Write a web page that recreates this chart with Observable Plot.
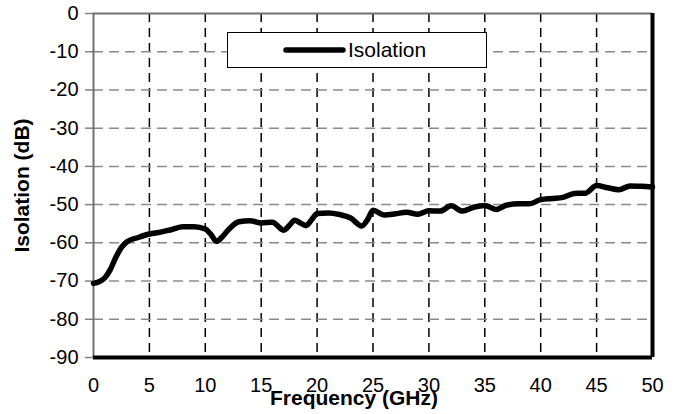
<!DOCTYPE html>
<html>
<head>
<meta charset="utf-8">
<script src="https://cdn.jsdelivr.net/npm/d3@7"></script>
<script src="https://cdn.jsdelivr.net/npm/@observablehq/plot@0.6"></script>
<style>
  html, body { margin: 0; padding: 0; background: white; }
  #wrap { position: relative; width: 682px; height: 414px; font-family: "Liberation Sans", Arial, sans-serif; }
  #legend { position: absolute; left: 227px; top: 32px; width: 258px; height: 34px; border: 1.5px solid black; background: white; }
  #legend svg { position: absolute; left: 0; top: 0; }
</style>
</head>
<body>
<div id="wrap"></div>
<script>
const freq = [0, 0.5, 1, 1.5, 2, 2.5, 3, 4, 5, 6, 7, 8, 9, 10, 10.5, 11, 11.5, 12, 13, 14, 15, 16, 17, 17.5, 18, 18.5, 19, 19.5, 20, 21, 22, 23, 24, 24.5, 25, 26, 27, 28, 29, 30, 31, 32, 33, 34, 35, 36, 37, 38, 39, 40, 41, 42, 43, 44, 45, 46, 47, 48, 49, 50];
const isolation = [-70.6, -70.2, -69.2, -67, -63.8, -61.2, -59.7, -58.6, -57.7, -57.2, -56.5, -55.8, -55.8, -56.4, -57.8, -59.6, -58.5, -56.8, -54.5, -54.2, -54.8, -54.6, -56.7, -55.5, -54.1, -54.8, -55.5, -54, -52.3, -52.2, -52.6, -53.5, -55.6, -54, -51.5, -52.7, -52.4, -52, -52.5, -51.6, -51.7, -50.3, -51.7, -50.7, -50.2, -51.3, -50.1, -49.8, -49.8, -48.7, -48.4, -48.1, -47.1, -47, -45, -45.6, -46.1, -45.1, -45.2, -45.4];
const xTicks = [0, 5, 10, 15, 20, 25, 30, 35, 40, 45, 50];
const yTicks = [0, -10, -20, -30, -40, -50, -60, -70, -80, -90];
const xGrid = [5, 10, 15, 20, 25, 30, 35, 40, 45];
const yGrid = [-10, -20, -30, -40, -50, -60, -70, -80];
const seriesName = "Isolation";
const xTitle = "Frequency (GHz)";
const yTitle = "Isolation (dB)";

const data = freq.map((f, i) => ({f, v: isolation[i]}));

const chart = Plot.plot({
  width: 682,
  height: 414,
  marginLeft: 93,
  marginRight: 30,
  marginTop: 13,
  marginBottom: 57,
  style: {fontFamily: "'Liberation Sans', Arial, sans-serif", fontSize: "20px", background: "white", color: "black", overflow: "visible"},
  x: {domain: [0, 50]},
  y: {domain: [-90, 0]},
  marks: [
    Plot.gridX(xGrid, {stroke: "black", strokeOpacity: 1, strokeWidth: 1.5, strokeDasharray: "9,6"}),
    Plot.gridY(yGrid, {stroke: "#8a8a8a", strokeOpacity: 1, strokeWidth: 1.5, strokeDasharray: "10,6"}),
    Plot.axisY(yTicks, {tickSize: 8, tickPadding: 7, stroke: "#808080", strokeWidth: 1.5, tickFormat: d => String(d), label: null, fontSize: 20}),
    Plot.axisX(xTicks, {tickSize: 0, tickPadding: 20, tickFormat: d => String(d), label: null, fontSize: 20}),
    Plot.ruleX([0], {stroke: "#707070", strokeWidth: 2}),
    Plot.ruleY([0], {stroke: "#707070", strokeWidth: 2}),
    Plot.line(data, {x: "f", y: "v", stroke: "black", strokeWidth: 5.5, curve: "monotone-x", strokeLinejoin: "round", strokeLinecap: "round"}),
    Plot.ruleX([50], {stroke: "black", strokeWidth: 4}),
    Plot.ruleY([-90], {stroke: "black", strokeWidth: 4}),
    Plot.text([xTitle], {frameAnchor: "bottom", dx: -19, dy: 41, text: d => d, fontWeight: "bold", fontSize: 21, lineAnchor: "middle", fill: "black"}),
    Plot.text([yTitle], {frameAnchor: "left", dx: -71, rotate: -90, text: d => d, fontWeight: "bold", fontSize: 21, lineAnchor: "middle", textAnchor: "middle", fill: "black"})
  ]
});

const wrap = document.getElementById("wrap");
wrap.appendChild(chart);
chart.style.position = "absolute";
chart.style.left = "0";
chart.style.top = "0";

const legend = document.createElement("div");
legend.id = "legend";
legend.innerHTML = `<svg width="258" height="34"><line x1="58" y1="17" x2="115" y2="17" stroke="black" stroke-width="5.5" stroke-linecap="round"/><text x="120" y="24" font-size="21" font-family="'Liberation Sans', Arial, sans-serif" fill="black">${seriesName}</text></svg>`;
wrap.appendChild(legend);
</script>
</body>
</html>
